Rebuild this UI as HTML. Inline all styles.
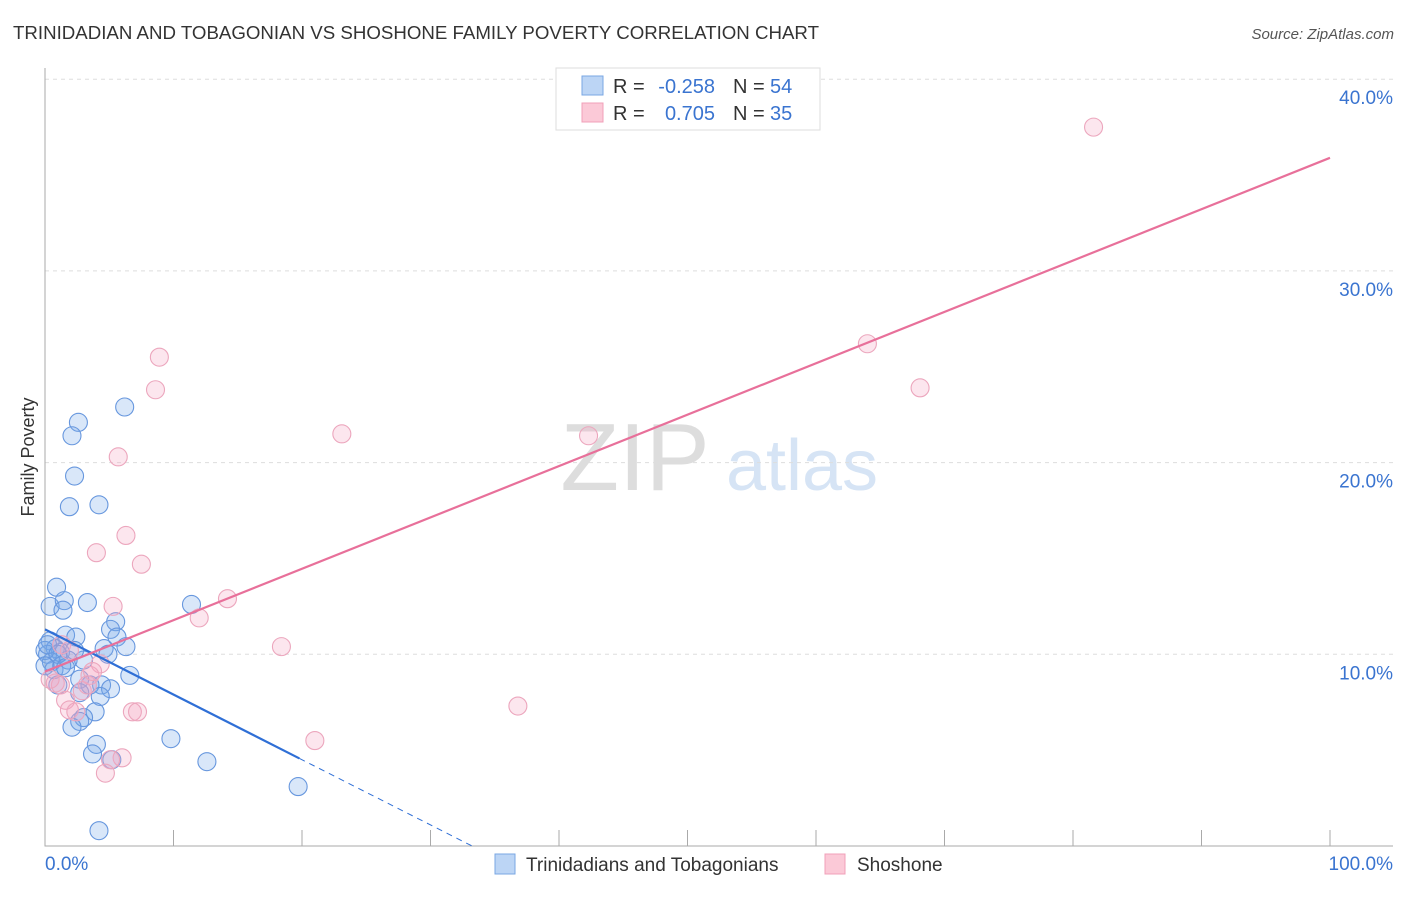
<!DOCTYPE html>
<html><head><meta charset="utf-8"><style>
body{margin:0;background:#fff;font-family:"Liberation Sans",sans-serif;}
svg text{font-family:"Liberation Sans",sans-serif;}
</style></head><body>
<svg id="chart" width="1406" height="892" xmlns="http://www.w3.org/2000/svg">
<text x="13" y="39" font-size="18" fill="#333" textLength="806" lengthAdjust="spacingAndGlyphs">TRINIDADIAN AND TOBAGONIAN VS SHOSHONE FAMILY POVERTY CORRELATION CHART</text>
<text x="1394" y="39" font-size="15" fill="#555" text-anchor="end" font-style="italic">Source: ZipAtlas.com</text>
<text transform="translate(34,457) rotate(-90)" font-size="18" fill="#333" text-anchor="middle">Family Poverty</text>
<text x="635" y="490" font-size="96" fill="#ddd" text-anchor="middle" font-family="Liberation Serif">ZIP</text>
<text x="802" y="490" font-size="72" fill="#d6e4f5" text-anchor="middle">atlas</text>
<g id="grid"></g><g id="marks"></g>
<g>
<rect x="556" y="68" width="264" height="62" fill="#fff" stroke="#ddd"/>
<rect x="582" y="76" width="21" height="19" fill="#bcd5f5" stroke="#7aa7e3"/>
<rect x="582" y="103" width="21" height="19" fill="#fbc9d7" stroke="#f0a0b8"/>
<text x="613" y="93" font-size="20" fill="#333">R =</text>
<text x="715" y="93" font-size="20" fill="#3a74d0" text-anchor="end">-0.258</text>
<text x="733" y="93" font-size="20" fill="#333">N =</text>
<text x="770" y="93" font-size="20" fill="#3a74d0">54</text>
<text x="613" y="120" font-size="20" fill="#333">R =</text>
<text x="715" y="120" font-size="20" fill="#3a74d0" text-anchor="end">0.705</text>
<text x="733" y="120" font-size="20" fill="#333">N =</text>
<text x="770" y="120" font-size="20" fill="#3a74d0">35</text>
</g>
<g>
<rect x="495" y="854" width="20" height="20" fill="#bcd5f5" stroke="#7aa7e3"/>
<text x="526" y="871" font-size="19" fill="#333">Trinidadians and Tobagonians</text>
<rect x="825" y="854" width="20" height="20" fill="#fbc9d7" stroke="#f0a0b8"/>
<text x="857" y="871" font-size="19" fill="#333">Shoshone</text>
</g>
<text x="45" y="870" font-size="19" fill="#3a74d0">0.0%</text>
<text x="1393" y="870" font-size="19" fill="#3a74d0" text-anchor="end">100.0%</text>
</svg>
<script>
const yTicks=[10,20,30,40];
const xTicks=[0,10,20,30,40,50,60,70,80,90,100];
const blueX=[0.9,0.4,1.5,1.4,3.3,6.2,2.6,2.1,2.3,1.9,4.2,5.5,5.1,5.6,4.6,4.9,6.3,11.4,6.6,1.6,2.4,0.4,0.8,1.2,0.2,0.5,1.8,0.7,1.3,3.0,2.3,1.0,2.7,4.4,5.1,3.5,4.3,2.7,3.9,3.0,2.7,2.1,4.0,3.7,5.2,9.8,12.6,19.7,4.2,0.0,0.2,1.0,0.0,1.6];
const blueY=[13.5,12.5,12.8,12.3,12.7,22.9,22.1,21.4,19.3,17.7,17.8,11.7,11.3,10.9,10.3,10.0,10.4,12.6,8.9,11.0,10.9,10.7,10.3,10.1,10.0,9.6,9.7,9.2,9.4,9.7,10.2,8.4,8.7,8.4,8.2,8.4,7.8,8.0,7.0,6.7,6.5,6.2,5.3,4.8,4.5,5.6,4.4,3.1,0.8,10.2,10.5,10.0,9.4,9.3];
const pinkX=[81.6,64.0,68.1,42.3,23.1,8.9,8.6,5.7,4.0,6.3,7.5,14.2,5.3,12.0,18.4,36.8,21.0,4.3,3.5,2.9,0.8,1.2,1.6,1.9,2.4,6.8,7.2,3.3,3.7,6.0,5.1,4.7,1.3,1.9,0.4];
const pinkY=[37.5,26.2,23.9,21.4,21.5,25.5,23.8,20.3,15.3,16.2,14.7,12.9,12.5,11.9,10.4,7.3,5.5,9.5,8.9,8.1,8.5,8.4,7.6,7.1,7.0,7.0,7.0,8.4,9.1,4.6,4.5,3.8,10.5,10.2,8.7];
const blueFit=[11.3,-0.34];
const pinkFit=[9.1,0.268];
const NS="http://www.w3.org/2000/svg";
const sx=v=>45+v*12.85, sy=v=>846-v*19.17;
function mk(tag,attrs,parent){const e=document.createElementNS(NS,tag);for(const k in attrs)e.setAttribute(k,attrs[k]);parent.appendChild(e);return e;}
const grid=document.getElementById('grid'), marks=document.getElementById('marks');
yTicks.forEach(t=>{
 const l=mk('line',{x1:45,x2:1393,y1:sy(t),y2:sy(t),stroke:'#ddd','stroke-dasharray':'4,4'},grid);
 
 
 const tx=mk('text',{x:1393,y:sy(t)+25,'font-size':19,fill:'#3a74d0','text-anchor':'end'},grid);
 tx.textContent=t.toFixed(1)+'%';
 
 
});
const ax=mk('path',{d:'M45 68 V846 H1393',fill:'none',stroke:'#aaa'},grid);


xTicks.forEach(t=>{
 const l=mk('line',{x1:sx(t),x2:sx(t),y1:830,y2:846,stroke:'#aaa'},grid);
 
 
});
function dots(xs,ys,fill,stroke,name){
 xs.forEach((x,i)=>{
  const c=mk('circle',{cx:sx(x),cy:sy(ys[i]),r:9,fill:fill,stroke:stroke,'stroke-width':1.1},marks);
  
  
 });
}
dots(blueX,blueY,'rgba(120,168,232,0.28)','#6797de','point-trinidadian');
dots(pinkX,pinkY,'rgba(245,165,195,0.28)','#eca6bd','point-shoshone');
const bEnd=19.8, bZero=-blueFit[0]/blueFit[1];
const bl=mk('line',{x1:sx(0),y1:sy(blueFit[0]),x2:sx(bEnd),y2:sy(blueFit[0]+blueFit[1]*bEnd),stroke:'#2f6fd6','stroke-width':2.2},marks);


const bd=mk('line',{x1:sx(bEnd),y1:sy(blueFit[0]+blueFit[1]*bEnd),x2:sx(bZero),y2:sy(0),stroke:'#2f6fd6','stroke-width':1,'stroke-dasharray':'6,5'},marks);


const pl=mk('line',{x1:sx(0),y1:sy(pinkFit[0]),x2:sx(100),y2:sy(pinkFit[0]+pinkFit[1]*100),stroke:'#e8709a','stroke-width':2.2},marks);


</script>
</body></html>
